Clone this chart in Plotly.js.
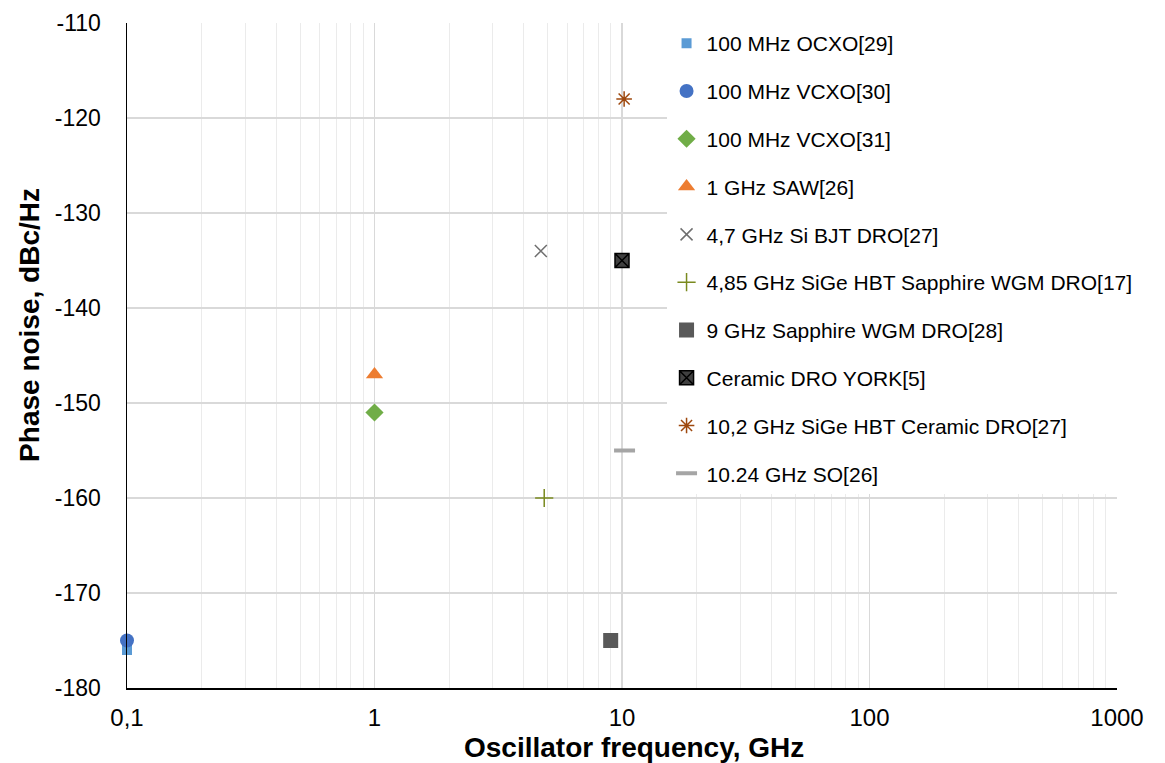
<!DOCTYPE html>
<html>
<head>
<meta charset="utf-8">
<script src="https://cdn.plot.ly/plotly-3.0.1.min.js"></script>
<style>html,body{margin:0;padding:0;background:#fff;}#chart{width:1165px;height:763px;}</style>
</head>
<body>
<div id="chart"></div>
<script>
// Data
const seriesNames = [
  "100 MHz OCXO[29]",
  "100 MHz VCXO[30]",
  "100 MHz VCXO[31]",
  "1 GHz SAW[26]",
  "4,7 GHz Si BJT DRO[27]",
  "4,85 GHz SiGe HBT Sapphire WGM DRO[17]",
  "9 GHz Sapphire WGM DRO[28]",
  "Ceramic DRO YORK[5]",
  "10,2 GHz SiGe HBT Ceramic DRO[27]",
  "10.24 GHz SO[26]"
];
const freqGHz = [0.1, 0.1, 1, 1, 4.7, 4.85, 9, 10, 10.2, 10.24];
const phaseNoise = [-176, -175, -151, -147, -134, -160, -175, -135, -118, -155];

const xTickVals = [0.1, 1, 10, 100, 1000];
const xTickText = ["0,1", "1", "10", "100", "1000"];
const yTickVals = [-180, -170, -160, -150, -140, -130, -120, -110];
const yTickText = ["-180", "-170", "-160", "-150", "-140", "-130", "-120", "-110"];
const xMinorVals = [0.2,0.3,0.4,0.5,0.6,0.7,0.8,0.9,2,3,4,5,6,7,8,9,20,30,40,50,60,70,80,90,200,300,400,500,600,700,800,900];
const xTitle = "Oscillator frequency, GHz";
const yTitle = "Phase noise, dBc/Hz";

// Styles
const styles = [
  {symbol: "square", color: "#5B9BD5", size: 10, line: {width: 0}},
  {symbol: "circle", color: "#4472C4", size: 14, line: {width: 0}},
  {symbol: "diamond", color: "#70AD47", size: 14, line: {width: 0}},
  {symbol: "triangle-up", color: "#ED7D31", size: 15, line: {width: 0}},
  {symbol: "x-thin-open", color: "#6F6F6F", size: 12, line: {width: 1.5, color: "#6F6F6F"}},
  {symbol: "cross-thin-open", color: "#7A8A1F", size: 13, line: {width: 1.5, color: "#7A8A1F"}},
  {symbol: "square", color: "#595959", size: 15, line: {width: 0}},
  {symbol: "square-x", color: "#404040", size: 14, line: {width: 1.5, color: "#000000"}},
  {symbol: "asterisk-open", color: "#9E480E", size: 13, line: {width: 1.5, color: "#9E480E"}},
  {symbol: "line-ew-open", color: "#A5A5A5", size: 15, line: {width: 4, color: "#A5A5A5"}}
];

const traces = seriesNames.map((name, i) => ({
  type: "scatter",
  mode: "markers",
  name: name,
  x: [freqGHz[i]],
  y: [phaseNoise[i]],
  legendgroup: "g" + i,
  cliponaxis: false,
  marker: {
    symbol: styles[i].symbol,
    color: styles[i].color,
    size: styles[i].size,
    line: styles[i].line
  }
}));

const layout = {
  width: 1165,
  height: 763,
  margin: {l: 127, r: 48, t: 23, b: 75},
  paper_bgcolor: "#ffffff",
  plot_bgcolor: "#ffffff",
  font: {family: "Liberation Sans, Arial, sans-serif", color: "#000000"},
  showlegend: true,
  legend: {
    x: 0.545, y: 1.0, xanchor: "left", yanchor: "top",
    bgcolor: "#ffffff",
    font: {size: 21, color: "#000000"},
    tracegroupgap: 17.5,
    itemwidth: 30,
    maxheight: 740
  },
  xaxis: {
    type: "log",
    range: [-1, 3],
    tickmode: "array",
    tickvals: xTickVals,
    ticktext: xTickText,
    tickfont: {size: 24},
    ticklabelstandoff: 8,
    showgrid: true,
    gridcolor: "#D9D9D9",
    gridwidth: 1.5,
    minor: {tickmode: "array", tickvals: xMinorVals, showgrid: true, gridcolor: "#EBEBEB", gridwidth: 1},
    showline: true,
    linecolor: "#000000",
    linewidth: 1.5,
    zeroline: false,
    ticks: "",
    automargin: false
  },
  yaxis: {
    range: [-180, -110],
    tickmode: "array",
    tickvals: yTickVals,
    ticktext: yTickText,
    tickfont: {size: 23},
    ticklabelstandoff: 20,
    showgrid: true,
    gridcolor: "#D9D9D9",
    gridwidth: 1.5,
    showline: true,
    linecolor: "#000000",
    linewidth: 1.5,
    zeroline: false,
    ticks: "",
    automargin: false
  },
  annotations: [
    {text: "<b>" + xTitle + "</b>", xref: "paper", yref: "paper", x: 0.512, y: -0.09,
     xanchor: "center", yanchor: "middle", showarrow: false, font: {size: 28, color: "#000000"}},
    {text: "<b>" + yTitle + "</b>", xref: "paper", yref: "paper", x: -0.098, y: 0.546,
     xanchor: "center", yanchor: "middle", textangle: -90, showarrow: false, font: {size: 28, color: "#000000"}}
  ]
};

Plotly.newPlot("chart", traces, layout, {displayModeBar: false, staticPlot: true});
</script>
</body>
</html>
